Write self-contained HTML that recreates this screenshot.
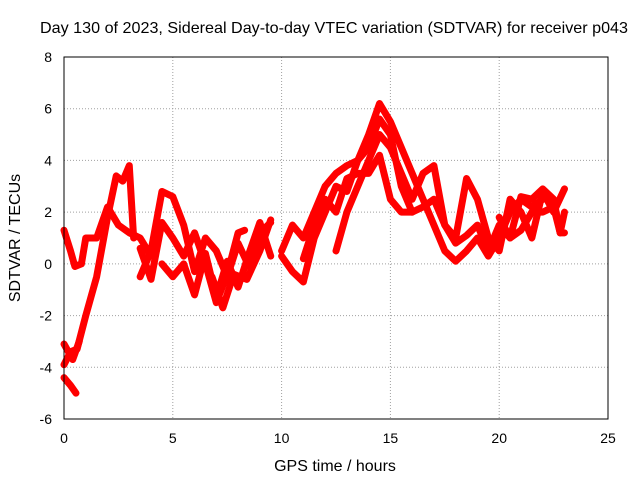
<!DOCTYPE html>
<html><head><meta charset="utf-8"><style>
body{margin:0;background:#fff}
svg text{font-family:"Liberation Sans",sans-serif;fill:#000}
</style></head><body>
<svg width="640" height="480">
<g id="grid"></g>
<g id="series"></g>
<rect x="64" y="57" width="544" height="362" fill="none" stroke="#000" stroke-width="1"/>
<g id="ticks"></g>
<text x="334" y="33" font-size="16" text-anchor="middle" textLength="588" lengthAdjust="spacingAndGlyphs">Day 130 of 2023, Sidereal Day-to-day VTEC variation (SDTVAR) for receiver p043</text>
<text x="335" y="471" font-size="16" text-anchor="middle">GPS time / hours</text>
<text x="0" y="0" font-size="16" text-anchor="middle" transform="translate(20,238) rotate(-90)">SDTVAR / TECUs</text>
</svg>
<script>
const xTicks=[0,5,10,15,20,25];
const yTicks=[-6,-4,-2,0,2,4,6,8];
const s1=[[0,-4.4],[0.3,-4.7],[0.55,-5]];
const s2=[[0,-3.9],[0.3,-3.4],[0.6,-3.3],[1,-2],[1.5,-0.5],[2,1.8],[2.4,3.4],[2.7,3.2],[3,3.8],[3.2,1]];
const s3=[[0,1.3],[0.3,0.5],[0.5,-0.1],[0.8,0],[1,1],[1.5,1],[2,2.2],[2.5,1.5],[3,1.2],[3.5,1],[4,0.3]];
const s4=[[0,-3.1],[0.4,-3.7],[0.7,-3]];
const s5=[[3.5,-0.5],[4,0.5],[4.5,2.8],[5,2.6],[5.5,1.5],[6,-0.3],[6.5,1],[7,0.5],[7.5,-0.5],[8,0.8],[8.5,-0.1],[9,1.2],[9.5,1.6]];
const s6=[[3.5,0.6],[4,-0.6],[4.5,1.6],[5,1],[5.5,0.3],[6,1.2],[6.5,0],[7,-1.5],[7.5,-0.4],[8,1.2],[8.3,1.3]];
const s7=[[4.5,0],[5,-0.5],[5.5,0],[6,-1.2],[6.5,0.4],[7,-1.3],[7.5,0.1],[8,-0.9],[8.5,0.4],[9,1.6],[9.5,0.3]];
const s8=[[6.8,-0.5],[7.3,-1.7],[7.8,-0.4],[8.4,-0.6],[9,0.5],[9.5,1.7]];
const s9=[[10,0.5],[10.5,1.5],[11,1],[11.5,2],[12,3],[12.5,3.5],[13,3.8],[13.5,4],[14,5],[14.5,6.2],[15,5.5],[15.5,4.5],[16,3.5],[16.5,2.5],[17,1.5],[17.5,0.5],[18,0.1],[18.5,0.5],[19,1],[19.5,0.3],[20,1],[20.5,2],[21,2.5],[21.5,2.2],[22,2.5]];
const s10=[[10,0.3],[10.5,-0.3],[11,-0.7],[11.5,1],[12,2],[12.5,3],[13,2.8],[13.5,4],[14,4.5],[14.5,5.6],[15,5],[15.5,3],[16,2],[16.5,2.2],[17,2.5],[17.5,1.5],[18,1],[18.5,3.3],[19,2.5],[19.5,1],[20,0.5],[20.5,2.5],[21,2],[21.5,1],[22,2.8],[22.5,2],[23,2.9]];
const s11=[[12.5,0.5],[13,2],[13.5,3],[14,4],[14.5,5],[15,4.5],[15.5,3.5],[16,2.5],[16.5,3.5],[17,3.8],[17.5,1.5],[18,0.8],[18.5,1.1],[19,1.5],[19.5,0.5],[20,1.5],[20.5,1],[21,1.3],[21.5,2],[22,2],[22.5,2.2],[22.8,1.2],[23,2]];
const s12=[[11,0.2],[11.5,1.5],[12,2.5],[12.5,2],[13,3.3],[13.5,3.5],[14,3.5],[14.5,4.2],[15,2.5],[15.5,2],[16,2]];
const s13=[[20,1.8],[20.5,1],[21,2.6],[21.5,2.5],[22,2.9],[22.5,2.5],[22.8,1.2],[23,1.2]];
const allSeries=[s1,s2,s3,s4,s5,s6,s7,s8,s9,s10,s11,s12,s13];
const NS="http://www.w3.org/2000/svg";
const X=t=>64+t*(544/25), Y=v=>419-(v+6)*(362/14);
const grid=document.getElementById('grid'),ticks=document.getElementById('ticks'),ser=document.getElementById('series');
function mk(tag,attrs,parent){const e=document.createElementNS(NS,tag);for(const k in attrs)e.setAttribute(k,attrs[k]);parent.appendChild(e);return e;}
xTicks.forEach(t=>{
 const g=mk('line',{x1:X(t),x2:X(t),y1:57,y2:419,stroke:'#a0a0a0','stroke-dasharray':'1,2'},grid);
 
 
 const tl=mk('text',{x:X(t),y:443,'font-size':14,'text-anchor':'middle'},ticks);tl.textContent=t;
 
 
});
yTicks.forEach(v=>{
 const g=mk('line',{x1:64,x2:608,y1:Y(v),y2:Y(v),stroke:'#a0a0a0','stroke-dasharray':'1,2'},grid);
 
 
 const tl=mk('text',{x:52,y:Y(v)+5,'font-size':14,'text-anchor':'end'},ticks);tl.textContent=v;
 
 
});
allSeries.forEach((s,i)=>{
 const p=mk('polyline',{points:s.map(d=>X(d[0])+','+Y(d[1])).join(' '),fill:'none',stroke:'#ff0000','stroke-width':7,'stroke-linejoin':'round','stroke-linecap':'round'},ser);
 
 
});
</script>
</body></html>
